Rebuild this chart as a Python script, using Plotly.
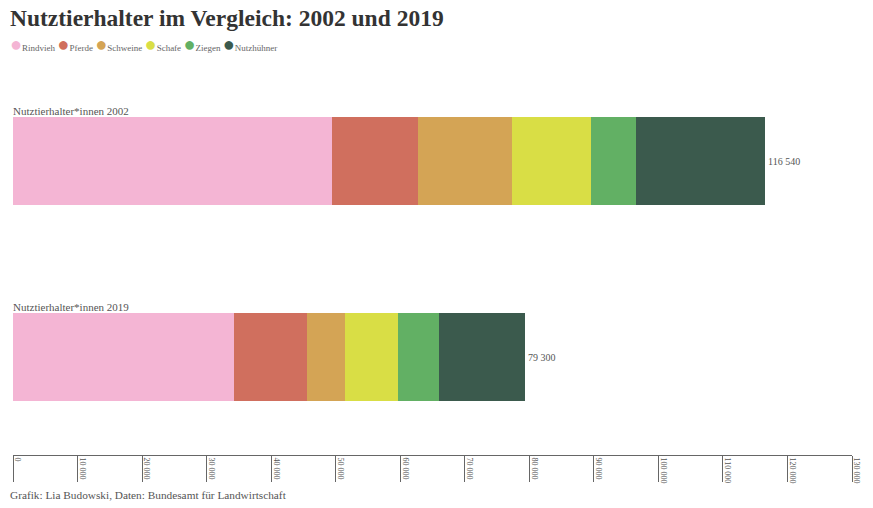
import plotly.graph_objects as go

categories = ["Nutztierhalter*innen 2002", "Nutztierhalter*innen 2019"]
animals = ["Rindvieh", "Pferde", "Schweine", "Schafe", "Ziegen", "Nutzhühner"]
values_2002 = [49500, 13250, 14600, 12200, 6950, 20040]
values_2019 = [34300, 11200, 5900, 8200, 6400, 13300]
colors = ["#F4B5D4", "#D06F5E", "#D4A455", "#D9DE45", "#62B064", "#3B5A4D"]
totals = [116540, 79300]
tick_values = list(range(0, 130001, 10000))

FONT = "Liberation Serif"

fig = go.Figure()
for i, a in enumerate(animals):
    fig.add_trace(go.Bar(
        y=categories, x=[values_2002[i], values_2019[i]], name=a, orientation="h",
        marker=dict(color=colors[i], line=dict(width=0)), width=0.444,
        showlegend=False,
        hovertemplate=a + ": %{x:,d}<extra></extra>",
    ))

# category labels above bars and totals right of bars
for c, t in zip(categories, totals):
    fig.add_annotation(x=0, y=c, xref="x", yref="y", text=c, showarrow=False,
                       xanchor="left", yanchor="bottom", yshift=42, xshift=-2,
                       font=dict(family=FONT, size=11, color="#555"))
    fig.add_annotation(x=t, y=c, xref="x", yref="y", text=f"{t:,}".replace(",", " "),
                       showarrow=False, xanchor="left", yanchor="middle", xshift=1,
                       font=dict(family=FONT, size=10, color="#555"))

# legend with round markers
legend_text = "".join(
    f"<span style='color:{col};font-size:20px'>●</span>{a}&nbsp;" for a, col in zip(animals, colors)
)
fig.add_annotation(x=-5 / 842, y=1 + (63 - 44) / 392, xref="paper", yref="paper",
                   text=legend_text,
                   showarrow=False, xanchor="left", yanchor="middle",
                   font=dict(family=FONT, size=9, color="#666"))

fig.add_annotation(x=0, y=0, xref="paper", yref="paper",
                   text="Grafik: Lia Budowski, Daten: Bundesamt für Landwirtschaft",
                   showarrow=False, xanchor="left", yanchor="top", xshift=-5, yshift=-32,
                   font=dict(family=FONT, size=11.3, color="#555"))

fig.update_layout(
    width=873, height=508,
    margin=dict(l=13, r=18, t=63, b=53),
    paper_bgcolor="white", plot_bgcolor="white",
    barmode="stack", bargap=0,
    separators=". ",
    title=dict(text="<b>Nutztierhalter im Vergleich: 2002 und 2019</b>",
               x=10 / 873, xanchor="left", xref="container",
               y=1 - 18 / 508, yanchor="middle", yref="container",
               font=dict(family=FONT, size=23.5, color="#333")),
    xaxis=dict(range=[0, 130000], tickvals=tick_values, tickformat=",d",
               showgrid=False, zeroline=False, showline=True, linecolor="#666", linewidth=1,
               ticks="outside", ticklen=26, tickcolor="#666", tickwidth=1,
               tickangle=90, ticklabelstandoff=-26, ticklabelshift=5,
               tickfont=dict(family=FONT, size=8, color="#555"), fixedrange=True),
    yaxis=dict(range=[1.5, -0.5], showticklabels=False, showgrid=False, zeroline=False,
               showline=False, ticks="", fixedrange=True),
)

fig.write_html("out.html", post_script="document.body.style.margin='0';",
               config={"displayModeBar": False})
